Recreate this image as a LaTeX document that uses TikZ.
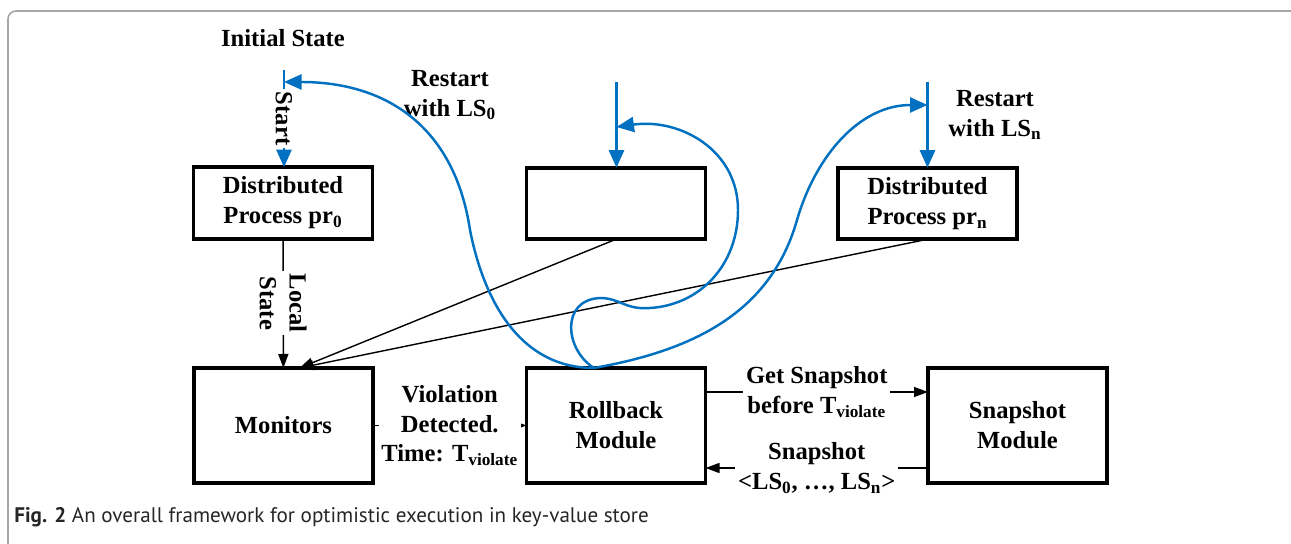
\documentclass[tikz,border=0pt]{standalone}
\usepackage{fontspec}
\setmainfont{Liberation Serif}
\newfontfamily\capfont{PT Sans}
\usetikzlibrary{positioning,arrows.meta,calc}
\definecolor{restartblue}{RGB}{0,112,192}
\newcommand{\lblfont}{\fontsize{14}{17}\selectfont\bfseries}
\tikzset{
  blk/.style={draw,line width=2pt,minimum width=3.58cm,inner sep=2pt,
    outer sep=0pt,align=center,font=\lblfont},
  topbox/.style={blk,minimum height=1.43cm},
  botbox/.style={blk,minimum height=2.3cm},
  flow/.style={-{Triangle[length=2.8mm,width=2mm]},line width=0.8pt},
  restart/.style={-{Triangle[length=3.5mm,width=3mm]},line width=1.4pt,
    restartblue},
  flowlbl/.style={font=\lblfont,fill=white,text=black,inner sep=1.5pt,
    align=center},
  sidelbl/.style={font=\lblfont,align=center},
  framec/.style={gray!70,line width=0.9pt},
}

\begin{document}
\begin{tikzpicture}
  \useasboundingbox (0,0) rectangle (25.82,10.88);
  \draw[framec,rounded corners=1.6mm] (0.16,0) |- (25.82,10.66);

  % top row: processes
  \node[topbox] (pr0) at (5.66,6.82) {Distributed\\Process pr\textsubscript{0}};
  \node[topbox] (prm) at (12.32,6.81) {};
  \node[topbox] (prn) at (18.55,6.81) {Distributed\\Process pr\textsubscript{n}};
  % bottom row: modules
  \node[botbox] (mon) at (5.67,2.37) {Monitors};
  \node[botbox] (rb) at (12.32,2.37) {Rollback\\Module};
  \node[botbox] (snap) at (20.35,2.37) {Snapshot\\Module};

  \node[sidelbl] (init) at (5.66,10.12) {Initial State};
  \node[sidelbl] (rl0) at (9.0,8.98) {Restart\\with LS\textsubscript{0}};
  \node[sidelbl] (rln) at (19.9,8.58) {Restart\\with LS\textsubscript{n}};

  % entry lines into the processes
  \coordinate (in0) at (5.68,9.48);
  \coordinate (inm) at (12.33,9.24);
  \coordinate (inn) at (18.55,9.24);
  \draw[restart] (in0) -- (in0 |- pr0.north)
    node[midway,rotate=-90,flowlbl] {Start};
  \draw[restart] (inm) -- (inm |- prm.north);
  \draw[restart] (inn) -- (inn |- prn.north);

  % local states go to the monitors
  \coordinate (mtip) at ($(mon.north)+(0.32,0)$);
  \draw[flow] (pr0) -- (mon) node[midway,rotate=-90,flowlbl] {Local\\State};
  \draw[flow] (prm.south) -- (mtip);
  \draw[flow] (prn.south) -- (mtip);

  \draw[flow] (mon) -- (rb)
    node[midway,flowlbl] {Violation\\Detected.\\Time: T\textsubscript{violate}};
  \draw[flow] ([yshift=0.67cm]rb.east) -- ([yshift=0.67cm]snap.west)
    node[midway,flowlbl] {Get Snapshot\\before T\textsubscript{violate}};
  \draw[flow] ([yshift=-0.85cm]snap.west) -- ([yshift=-0.85cm]rb.east)
    node[midway,flowlbl] {Snapshot\\<LS\textsubscript{0}, \ldots, LS\textsubscript{n}>};

  % restarts from the rollback module
  \coordinate (fork) at ($(rb.north)+(-0.44,0)$);
  \coordinate (r0) at ($(in0)+(0,-0.24)$);
  \coordinate (rm) at ($(inm)+(0,-0.9)$);
  \coordinate (rn) at ($(inn)+(0,-0.46)$);
  \draw[restart] (fork) .. controls (10.4,3.52) and (9.68,4.86) .. (9.4,6.28)
    .. controls (9.1,8.28) and (7.8,9.24) .. (r0);
  \draw[restart] (fork) .. controls (11.3,3.88) and (11.2,4.88) .. (12.0,4.92)
    .. controls (12.4,4.92) and (12.5,4.68) .. (13.0,4.72)
    .. controls (14.0,4.78) and (14.76,5.58) .. (14.76,6.68)
    .. controls (14.76,7.88) and (13.6,8.52) .. (rm);
  \draw[restart] (fork) .. controls (13.79,3.86) and (15.4,4.58) .. (15.94,6.48)
    .. controls (16.32,7.78) and (17.2,8.78) .. (rn);

  \node[anchor=west,inner sep=0pt,font=\capfont\fontsize{12}{14}\selectfont,
    text=black!85] (cap) at (0.28,0.54)
    {\textbf{Fig. 2} An overall framework for optimistic execution in key-value store};
\end{tikzpicture}
\end{document}
